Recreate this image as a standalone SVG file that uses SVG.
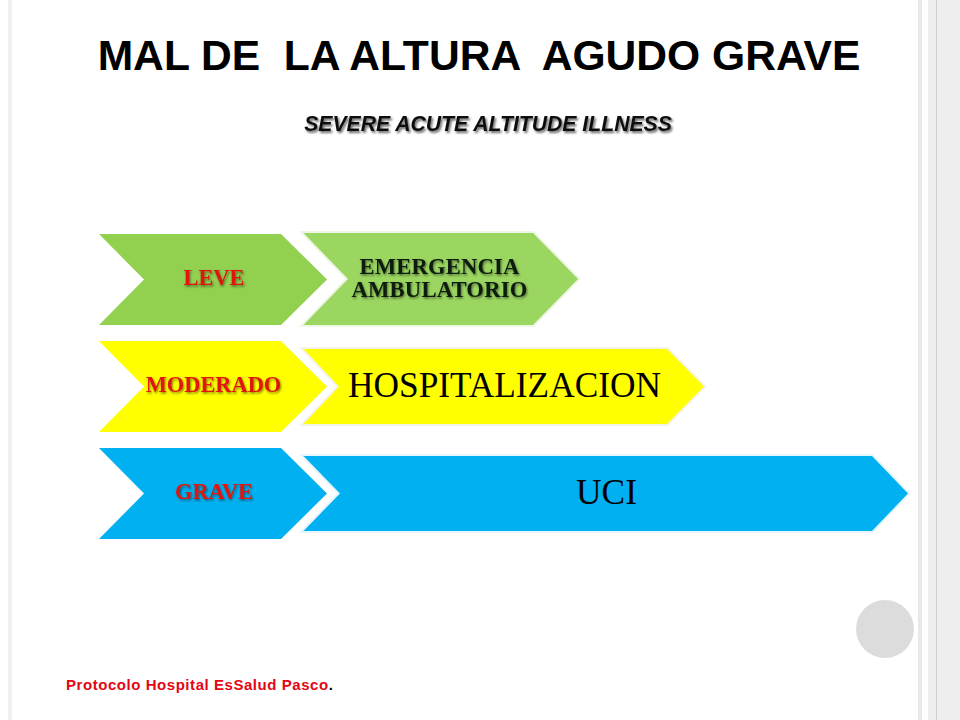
<svg xmlns="http://www.w3.org/2000/svg" width="960" height="720" viewBox="0 0 960 720">
<defs>
<filter id="sh" x="-10%" y="-30%" width="120%" height="170%"><feDropShadow dx="1" dy="1.5" stdDeviation="0.8" flood-color="#000" flood-opacity="0.5"/></filter>
<filter id="sh2" x="-5%" y="-30%" width="110%" height="170%"><feDropShadow dx="1.5" dy="2" stdDeviation="1.3" flood-color="#000" flood-opacity="0.6"/></filter>
</defs>
<style>
.ser{font-family:"Liberation Serif","Times New Roman",serif}
.san{font-family:"Liberation Sans",Arial,sans-serif}
.lab{font-size:22.4px;font-weight:700;fill:#e0140c;text-anchor:middle;filter:url(#sh)}
.emer{font-size:22.6px;font-weight:700;fill:#0c1a0c;text-anchor:middle;filter:url(#sh);letter-spacing:.2px}
.big{font-size:35.3px;fill:#000;text-anchor:middle}
.out{stroke-width:4;paint-order:stroke;stroke-linejoin:miter}
</style>
<rect width="960" height="720" fill="#fff"/>
<g id="frame">
<rect x="8" y="0" width="4" height="720" fill="#f0f0f0"/>
<rect x="918" y="0" width="4" height="720" fill="#e8e8e8"/>
<rect x="928" y="0" width="32" height="720" fill="#eeeeee"/>
<rect x="936" y="0" width="1" height="720" fill="#cfcfcf"/>
</g>
<g id="title"><text class="san" x="479" y="70" font-size="42.6" font-weight="700" text-anchor="middle" fill="#000" xml:space="preserve">MAL DE  LA ALTURA  AGUDO GRAVE</text></g>
<g id="subtitle"><text class="san" x="488" y="131" font-size="21.2" font-weight="700" font-style="italic" text-anchor="middle" fill="#111" filter="url(#sh2)">SEVERE ACUTE ALTITUDE ILLNESS</text></g>
<g id="connectors"/>
<g id="leve"><polygon points="99,234 281,234 327,279.5 281,325 99,325 144,279.5" fill="#92d050"/><text class="ser lab" x="214" y="285">LEVE</text></g>
<g id="emergencia"><polygon class="out" points="303.5,233 533,233 578,279 533,325 303.5,325 348,279" fill="#9bd661" stroke="#eef6e4"/><text class="ser emer"><tspan x="439.5" y="274">EMERGENCIA</tspan><tspan x="439.5" y="297">AMBULATORIO</tspan></text></g>
<g id="moderado"><polygon points="99,341 281,341 327,386.5 281,432 99,432 144,386.5" fill="#ffff00"/><text class="ser lab" x="213.5" y="392">MODERADO</text></g>
<g id="hospitalizacion"><polygon class="out" points="303.5,349 667,349 704,386.5 667,424 303.5,424 339,386.5" fill="#ffff00" stroke="#f4f4e6"/><text class="ser big" x="504.5" y="397">HOSPITALIZACION</text></g>
<g id="grave"><polygon points="99,448 281,448 327,493.5 281,539 99,539 144,493.5" fill="#00b0f0"/><text class="ser lab" x="214" y="499">GRAVE</text></g>
<g id="uci"><polygon class="out" points="303.5,456 872,456 908,493.5 872,531 303.5,531 340,493.5" fill="#00b0f0" stroke="#e6f5fb"/><text class="ser big" x="606.5" y="504">UCI</text></g>
<g id="circle"><circle cx="885" cy="629" r="29" fill="#dcdcdc"/></g>
<g id="source"><text class="san" x="66" y="690" font-size="15" font-weight="700" letter-spacing=".55"><tspan fill="#e30613">Protocolo Hospital EsSalud Pasco</tspan><tspan fill="#000">.</tspan></text></g>
</svg>
